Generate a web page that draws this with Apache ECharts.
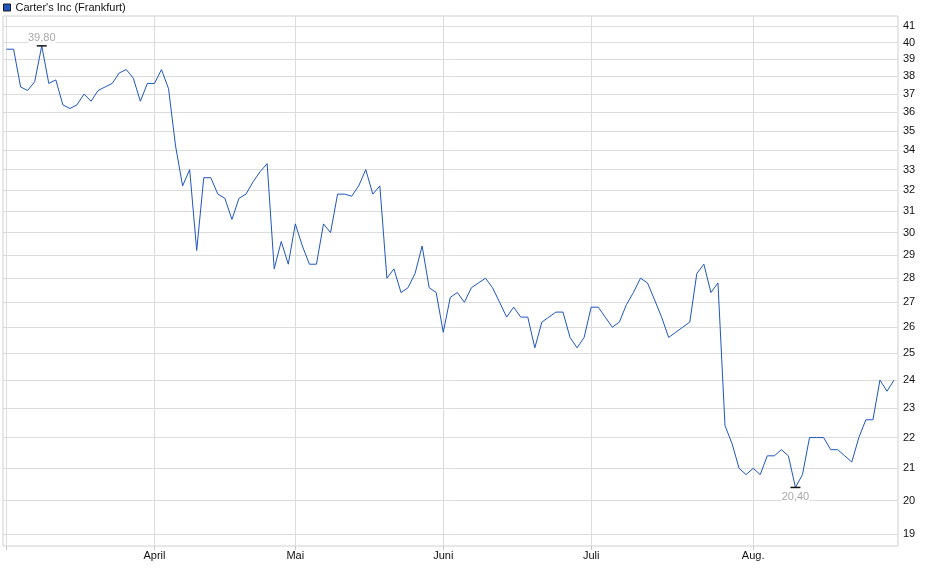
<!DOCTYPE html>
<html>
<head>
<meta charset="utf-8">
<style>
  html, body { margin: 0; padding: 0; background: #fff; }
  #main { width: 940px; height: 579px; }
</style>
<script src="https://cdn.jsdelivr.net/npm/echarts@6/dist/echarts.min.js"></script>
</head>
<body>
<div id="main"></div>
<script>
// trading days per month, Frankfurt, Mar - Aug
var months = ["März", "April", "Mai", "Juni", "Juli", "Aug."];
var tradingDays = [21, 20, 21, 21, 23, 21];

// closing prices in EUR, one per trading day
var prices = [
  39.6, 39.6, 37.4, 37.2, 37.7, 39.8, 37.6, 37.8, 36.4, 36.2,
  36.4, 37.0, 36.6, 37.2, 37.4, 37.6, 38.2, 38.4, 37.9, 36.6,
  37.6, 37.6, 38.4, 37.3, 34.2, 32.2, 33.0, 29.2, 32.6, 32.6,
  31.8, 31.6, 30.6, 31.6, 31.8, 32.4, 32.9, 33.3, 28.4, 29.6,
  28.6, 30.4, 29.4, 28.6, 28.6, 30.4, 30.0, 31.8, 31.8, 31.7,
  32.2, 33.0, 31.8, 32.2, 28.0, 28.4, 27.4, 27.6, 28.2, 29.4,
  27.6, 27.4, 25.8, 27.2, 27.4, 27.0, 27.6, 27.8, 28.0, 27.6,
  27.0, 26.4, 26.8, 26.4, 26.4, 25.2, 26.2, 26.4, 26.6, 26.6,
  25.6, 25.2, 25.6, 26.8, 26.8, 26.4, 26.0, 26.2, 26.9, 27.4,
  28.0, 27.8, 27.1, 26.4, 25.6, 25.8, 26.0, 26.2, 28.2, 28.6,
  27.4, 27.8, 22.4, 21.8, 21.0, 20.8, 21.0, 20.8, 21.4, 21.4,
  21.6, 21.4, 20.4, 20.8, 22.0, 22.0, 22.0, 21.6, 21.6, 21.4,
  21.2, 22.0, 22.6, 22.6, 24.0, 23.6, 24.0
];

var yTicks = [19, 20, 21, 22, 23, 24, 25, 26, 27, 28, 29, 30, 31, 32, 33, 34, 35, 36, 37, 38, 39, 40, 41];

// index of first trading day of each month
var monthStarts = [];
var monthName = {};
var acc = 0;
for (var k = 0; k < months.length; k++) {
  monthStarts.push(acc);
  monthName[acc] = months[k];
  acc += tradingDays[k];
}

var seriesData = prices.map(function(v, i) { return [i, v]; });

function fmtDe(v) {
  return v.toFixed(2).replace(".", ",");
}

var chart = echarts.init(document.getElementById("main"));
chart.setOption({
  backgroundColor: "#ffffff",
  animation: false,
  textStyle: { fontFamily: "Liberation Sans, Arial, sans-serif" },
  legend: {
    left: 3,
    top: 2,
    padding: 0,
    icon: "rect",
    itemWidth: 7,
    itemHeight: 7,
    textStyle: { color: "#111", fontSize: 11 },
    itemStyle: { color: "#1f56c2", borderColor: "#1a1a1a", borderWidth: 1 },
    data: ["Carter's Inc (Frankfurt)"]
  },
  grid: {
    left: 3,
    right: 42,
    top: 16,
    bottom: 33,
    show: true,
    borderColor: "#d0d0d0",
    borderWidth: 1
  },
  xAxis: {
    type: "value",
    min: -0.5,
    max: prices.length - 0.44,
    axisLine: { show: false },
    axisTick: {
      show: true,
      length: 4,
      customValues: monthStarts,
      lineStyle: { color: "#c8c8c8" }
    },
    axisLabel: {
      customValues: monthStarts,
      margin: 4,
      color: "#111",
      fontSize: 11,
      formatter: function(val) {
        var m = monthName[Math.round(val)];
        return !m || m === "März" ? "" : m;
      }
    },
    splitLine: {
      show: true,
      lineStyle: { color: "#dcdcdc", width: 1 }
    }
  },
  yAxis: {
    type: "log",
    position: "right",
    min: 18.67,
    max: 41.64,
    axisLine: { show: false },
    axisTick: { show: false, customValues: yTicks },
    axisLabel: {
      customValues: yTicks,
      margin: 5,
      color: "#111",
      fontSize: 11
    },
    splitLine: {
      show: true,
      lineStyle: { color: "#dcdcdc", width: 1 }
    }
  },
  series: [
    {
      name: "Carter's Inc (Frankfurt)",
      type: "line",
      data: seriesData,
      showSymbol: false,
      lineStyle: { color: "#1f56c2", width: 1 },
      itemStyle: { color: "#1f56c2" },
      markPoint: {
        symbol: "rect",
        symbolSize: [10, 1.5],
        itemStyle: { color: "#111" },
        label: {
          color: "#a8a8a8",
          fontSize: 11,
          backgroundColor: "#fff",
          formatter: function(p) { return fmtDe(p.value); }
        },
        data: [
          { type: "max", valueDim: "y", label: { position: "top", distance: 2 } },
          { type: "min", valueDim: "y", label: { position: "bottom", distance: 3 } }
        ]
      }
    }
  ]
});
</script>
</body>
</html>
